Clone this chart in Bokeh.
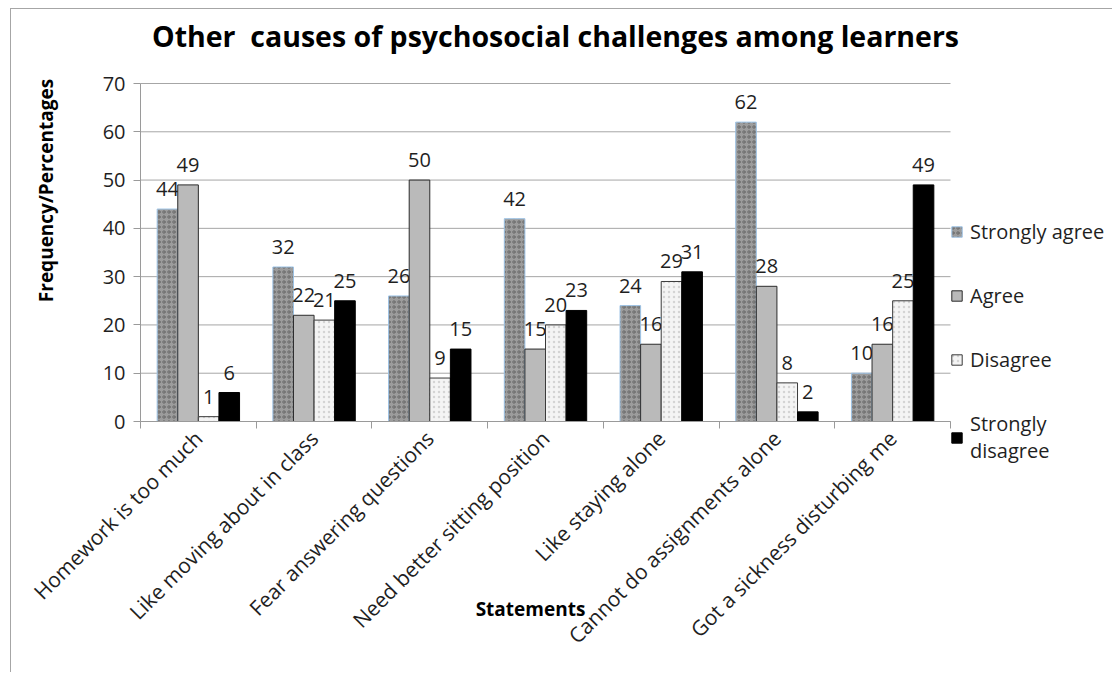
import math
from bokeh.plotting import figure
from bokeh.models import (ColumnDataSource, FixedTicker, Label, Legend, LegendItem, Range1d,
                          LinearAxis)
from bokeh.transform import dodge
from bokeh.core.properties import value
from bokeh.embed import file_html
from bokeh.resources import INLINE

# ---- data ----
categories = ["Homework is too much", "Like moving about in class", "Fear answering questions",
              "Need better sitting position", "Like staying alone", "Cannot do assignments alone",
              "Got a sickness disturbing me"]
strongly_agree = [44, 32, 26, 42, 24, 62, 10]
agree = [49, 22, 50, 15, 16, 28, 16]
disagree = [1, 21, 9, 20, 29, 8, 25]
strongly_disagree = [6, 25, 15, 23, 31, 2, 49]
series_labels = ["Strongly agree", "Agree", "Disagree", "Strongly\ndisagree"]
y_ticks = [0, 10, 20, 30, 40, 50, 60, 70]

title_text = "Other\u00a0 causes of psychosocial challenges among learners"
y_title = "Frequency/Percentages"
x_title = "Statements"

FONT = "Open Sans"
TXT = "#1f1f1f"

n = len(categories)
centers = [i + 0.5 for i in range(n)]
boundaries = [i for i in range(n + 1)]
y_max = y_ticks[-1]

# ---- layout (page pixels) ----
CANVAS_W, CANVAS_H = 1102, 664          # drawing area after 10/8px margin + 1px border
CANVAS_X0, CANVAS_Y0 = 11, 9            # canvas origin on page
PLOT_L, PLOT_R, PLOT_T, PLOT_B = 140, 950, 83, 421  # plot area on page
ux = (PLOT_R - PLOT_L) / n              # px per category
uy = (PLOT_B - PLOT_T) / y_max          # px per unit

def dx(px):
    return (px - PLOT_L) / ux

def dy(py):
    return (PLOT_B - py) / uy

x_range = Range1d(dx(CANVAS_X0), dx(CANVAS_X0 + CANVAS_W))
y_range = Range1d(dy(CANVAS_Y0 + CANVAS_H), dy(CANVAS_Y0))

p = figure(width=CANVAS_W, height=CANVAS_H, x_range=x_range, y_range=y_range,
           x_axis_type=None, y_axis_type=None, min_border=0,
           output_backend="svg", toolbar_location=None, tools="")
p.styles = {"margin-left": "10px", "margin-top": "8px",
            "border-left": "1px solid #a6a6a6", "border-top": "1px solid #a6a6a6"}
p.outline_line_color = None
p.background_fill_color = "white"
p.border_fill_color = "white"

# gridlines across the plot area only
p.segment(x0=0, x1=n, y0=y_ticks, y1=y_ticks, line_color="#a6a6a6", line_width=1, level="underlay")

bw = 0.178
styles = [
    dict(fill_color="#9c9c9c", line_color="#9dc3e6", hatch_pattern="ring", hatch_color="#555555",
         hatch_scale=5, hatch_weight=1, hatch_alpha=0.7),
    dict(fill_color="#bababa", line_color="#2b2b2b"),
    dict(fill_color="#f4f4f4", line_color="#3a3a3a", hatch_pattern="dot", hatch_color="#d4d4d4",
         hatch_scale=5, hatch_weight=1),
    dict(fill_color="#000000", line_color="#000000"),
]
all_vals = [strongly_agree, agree, disagree, strongly_disagree]
offsets = [-1.5 * bw, -0.5 * bw, 0.5 * bw, 1.5 * bw]

items = []
for vals, off, st, lab in zip(all_vals, offsets, styles, series_labels):
    src = ColumnDataSource(dict(x=centers, y=vals, t=[str(v) for v in vals]))
    r = p.vbar(x=dodge("x", off), top="y", bottom=0, width=bw, source=src, line_width=1, **st)
    p.text(x=dodge("x", off), y="y", text="t", source=src, text_align="center",
           text_baseline="bottom", y_offset=-13, text_font=value(FONT),
           text_font_size="20px", text_color=TXT)
    items.append(LegendItem(label=lab, renderers=[r]))

# axes
yaxis = LinearAxis(fixed_location=0, bounds=(0, y_max), ticker=FixedTicker(ticks=y_ticks))
yaxis.minor_tick_line_color = None
yaxis.major_tick_out = 7
yaxis.major_tick_in = 0
yaxis.major_tick_line_color = "#9a9a9a"
yaxis.axis_line_color = "#9a9a9a"
yaxis.major_label_text_font = FONT
yaxis.major_label_text_font_size = "20px"
yaxis.major_label_text_color = TXT
yaxis.major_label_standoff = 8
p.add_layout(yaxis, "left")

xaxis = LinearAxis(fixed_location=0, bounds=(0, n),
                   ticker=FixedTicker(ticks=centers, minor_ticks=boundaries))
xaxis.major_label_overrides = {c: name for c, name in zip(centers, categories)}
xaxis.major_tick_line_color = None
xaxis.minor_tick_line_color = "#9a9a9a"
xaxis.minor_tick_out = 7
xaxis.minor_tick_in = 0
xaxis.axis_line_color = "#9a9a9a"
xaxis.major_label_orientation = math.pi / 4
xaxis.major_label_text_font = FONT
xaxis.major_label_text_font_size = "21px"
xaxis.major_label_text_color = TXT
xaxis.major_label_standoff = 6
p.add_layout(xaxis, "below")

legend = Legend(items=items, location=(950 - CANVAS_X0, CANVAS_Y0 + CANVAS_H - 464),
                orientation="vertical",
                glyph_width=13, glyph_height=13, label_standoff=7, spacing=37,
                padding=0, margin=0, border_line_color=None, background_fill_alpha=0,
                label_text_font=FONT, label_text_font_size="20px", label_text_color=TXT)
p.add_layout(legend, "center")

# titles
p.add_layout(Label(x=dx(555), y=dy(35), text=title_text, text_align="center", text_baseline="middle",
                   text_font=FONT, text_font_size="28.5px", text_font_style="bold", text_color="#000000"))
p.add_layout(Label(x=dx(45), y=dy(190), text=y_title, angle=math.pi / 2, text_align="center",
                   text_baseline="middle", text_font=FONT, text_font_size="19px",
                   text_font_style="bold", text_color="#000000"))
p.add_layout(Label(x=dx(530), y=dy(608), text=x_title, text_align="center", text_baseline="middle",
                   text_font=FONT, text_font_size="19px", text_font_style="bold", text_color="#000000"))

open("out.html", "w").write(file_html(p, INLINE))
